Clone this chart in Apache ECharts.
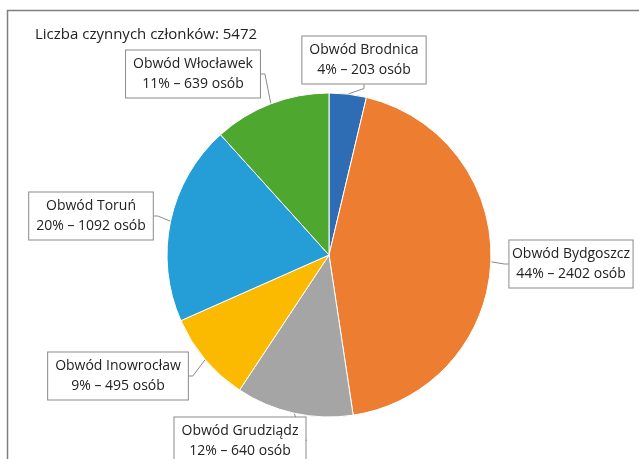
<!DOCTYPE html>
<html>
<head>
<meta charset="utf-8">
<script src="https://cdn.jsdelivr.net/npm/echarts@6/dist/echarts.min.js"></script>
<style>
html, body { margin: 0; padding: 0; background: #fff; }
#chart { width: 639px; height: 459px; }
</style>
</head>
<body>
<div id="chart"></div>
<script>
// dane z wykresu
var names = ['Obwód Brodnica', 'Obwód Bydgoszcz', 'Obwód Grudziądz', 'Obwód Inowrocław', 'Obwód Toruń', 'Obwód Włocławek'];
var values = [203, 2402, 640, 495, 1092, 639];
var colors = ['#2e6db4', '#ed7d31', '#a5a5a5', '#fbb900', '#259ed8', '#4ea72e'];
var totalText = 'Liczba czynnych członków: 5472';

// gdzie stoja ramki etykiet (srodek ramki)
var labelSpots = [[364, 60], [571, 264], [240, 441], [118, 376], [91, 216], [193, 74]];

var chart = echarts.init(document.getElementById('chart'));

var seriesData = names.map(function (n, i) {
    return { name: n, value: values[i], itemStyle: { color: colors[i] } };
});

var option = {
    animation: false,
    title: {
        text: totalText,
        left: 35,
        top: 27,
        padding: 0,
        textStyle: { fontFamily: 'Open Sans', fontSize: 15, fontWeight: 'normal', color: '#222' }
    },
    graphic: [{
        type: 'rect',
        shape: { x: 7.5, y: 10.5, width: 700, height: 500 },
        style: { fill: 'none', stroke: '#7f7f7f', lineWidth: 1.5 },
        silent: true
    }],
    series: [{
        type: 'pie',
        center: [329, 255],
        radius: 162,
        startAngle: 90,
        clockwise: true,
        percentPrecision: 0,
        data: seriesData,
        itemStyle: { borderColor: '#fff', borderWidth: 1 },
        label: {
            show: true,
            formatter: '{b}\n{d}% – {c} osób',
            fontFamily: 'Open Sans',
            fontSize: 14,
            lineHeight: 20,
            color: '#222',
            align: 'center',
            overflow: 'none',
            backgroundColor: '#fff',
            borderColor: '#8a8a8a',
            borderWidth: 1,
            padding: [4, 7, 3, 7]
        },
        labelLine: {
            show: true,
            length: 6,
            length2: 4,
            lineStyle: { color: '#8a8a8a', width: 1 }
        },
        labelLayout: function (params) {
            var p = labelSpots[params.dataIndex];
            return {
                x: p[0],
                y: p[1],
                align: 'center',
                verticalAlign: 'middle'
            };
        }
    }]
};

chart.setOption(option);
</script>
</body>
</html>
